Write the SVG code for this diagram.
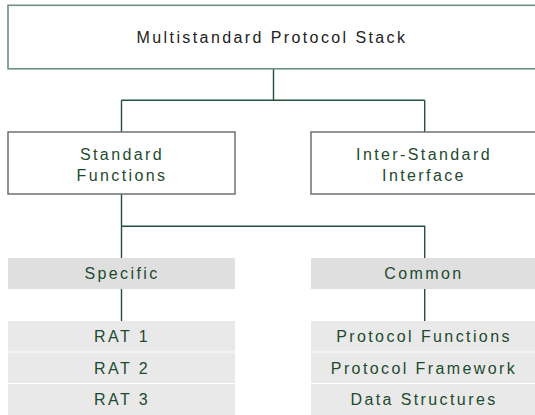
<svg xmlns="http://www.w3.org/2000/svg" width="535" height="415" viewBox="0 0 535 415">
<style>
.t{font-family:"Liberation Sans",Arial,sans-serif;font-size:16px;letter-spacing:2.4px;text-anchor:middle;fill:#1e4a30}
.title{fill:#222}
.bx{fill:#fff;stroke:#707070;stroke-width:1.5}
.top{fill:#fff;stroke:#6c9280;stroke-width:1.6}
.hd{fill:#dfdfdf}
.rw{fill:#e9e9e9}
.c{fill:none;stroke:#21523a;stroke-width:1.4}
</style>
<rect width="535" height="415" fill="#fff"/>
<g id="connectors">
<path class="c" d="M273.5 69V100.3M121.5 100.3H424.7M121.5 100.3V132M424.7 100.3V132"/>
<path class="c" d="M121.5 194V226.3H424.7V258M121.5 226.3V258"/>
<path class="c" d="M121.5 289V321M424.7 289V321"/>
</g>
<g id="stack">
<rect class="top" x="8" y="5.3" width="540" height="63.5"/>
<text class="t title" x="272" y="43">Multistandard Protocol Stack</text>
</g>
<g id="standard-functions">
<rect class="bx" x="8" y="132" width="227" height="62"/>
<text class="t" x="122" y="159.5">Standard</text>
<text class="t" x="122" y="181">Functions</text>
</g>
<g id="inter-standard">
<rect class="bx" x="311" y="132" width="240" height="62"/>
<text class="t" x="424" y="159.5">Inter-Standard</text>
<text class="t" x="424" y="181">Interface</text>
</g>
<g id="specific">
<rect class="hd" x="8" y="258" width="227" height="31"/>
<text class="t" x="122" y="279">Specific</text>
</g>
<g id="common">
<rect class="hd" x="311" y="258" width="224" height="31"/>
<text class="t" x="424" y="279">Common</text>
</g>
<g id="rat1">
<rect class="rw" x="8" y="321" width="227" height="30.5"/>
<text class="t" x="122" y="342">RAT 1</text>
</g>
<g id="rat2">
<rect class="rw" x="8" y="352.5" width="227" height="30.5"/>
<text class="t" x="122" y="373.5">RAT 2</text>
</g>
<g id="rat3">
<rect class="rw" x="8" y="384" width="227" height="31"/>
<text class="t" x="122" y="405">RAT 3</text>
</g>
<g id="protocol-functions">
<rect class="rw" x="311" y="321" width="224" height="30.5"/>
<text class="t" x="424" y="342">Protocol Functions</text>
</g>
<g id="protocol-framework">
<rect class="rw" x="311" y="352.5" width="224" height="30.5"/>
<text class="t" x="424" y="373.5">Protocol Framework</text>
</g>
<g id="data-structures">
<rect class="rw" x="311" y="384" width="224" height="31"/>
<text class="t" x="424" y="405">Data Structures</text>
</g>
</svg>
